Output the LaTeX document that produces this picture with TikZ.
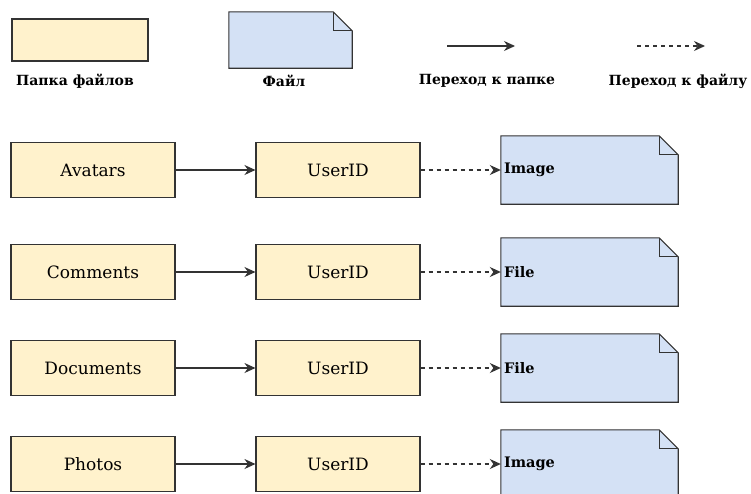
\documentclass[tikz,border=0pt]{standalone}
\usepackage{fontspec}
\setmainfont{DejaVu Serif}
\usetikzlibrary{arrows.meta,positioning,backgrounds}
\definecolor{folderfill}{HTML}{FFF2CC}
\definecolor{filefill}{HTML}{D4E1F5}
\definecolor{edgegray}{HTML}{333333}
\tikzset{
  folder/.style={draw=edgegray, fill=folderfill, line width=1.1pt, minimum width=164pt, minimum height=55pt, font=\fontsize{17}{21}\selectfont},
  docnode/.style={minimum width=177pt, minimum height=68pt, text width=171pt, inner sep=3pt, align=left, font=\bfseries\fontsize{14.5}{18}\selectfont},
  legtext/.style={font=\bfseries\fontsize{14}{18}\selectfont},
  toFolder/.style={-{Stealth[length=11pt,width=10pt]}, line width=1.2pt, draw=edgegray},
  toFile/.style={toFolder, dash pattern=on 4pt off 4pt}
}
\newcommand{\docoutline}[1]{%
  \draw[draw=edgegray, fill=filefill, line width=1.1pt] (#1.north west) -- ([xshift=-19pt]#1.north east) -- ([yshift=-19pt]#1.north east) -- (#1.south east) -- (#1.south west) -- cycle;
  \draw[draw=edgegray, line width=1.1pt] ([xshift=-19pt]#1.north east) |- ([yshift=-19pt]#1.north east);
}
\begin{document}
\begin{tikzpicture}[x=1pt,y=-1pt]
  \path[use as bounding box, clip] (0,0) rectangle (751,493);
  % legend
  \node[folder, minimum width=136pt, minimum height=42pt] (legdir) at (80,40) {};
  \node[docnode, minimum width=123pt, minimum height=56pt, text width=117pt] (legdoc) at (290.5,40) {};
  \begin{scope}[on background layer] \docoutline{legdoc} \end{scope}
  \coordinate (sa) at (447,46);
  \coordinate (sb) at (515,46);
  \coordinate (da) at (637,46);
  \coordinate (db) at (705,46);
  \draw[toFolder] (sa) -- (sb);
  \draw[toFile] (da) -- (db);
  \node[legtext] (l1) at (75,81) {Папка файлов};
  \node[legtext] (l2) at (284,81) {Файл};
  \node[legtext] (l3) at (487,81) {Переход к папке};
  \node[legtext] (l4) at (678,81) {Переход к файлу};
  % rows
  \foreach \name/\file/\y [count=\i] in {Avatars/Image/170, Comments/File/272, Documents/File/368, Photos/Image/464}{
    \node[folder] (dir\i) at (93,\y) {\name};
    \node[folder] (uid\i) at (338,\y) {UserID};
    \node[docnode] (doc\i) at (589.5,\y) {\file};
    \begin{scope}[on background layer] \docoutline{doc\i} \end{scope}
    \draw[toFolder] (dir\i) -- (uid\i);
    \draw[toFile] (uid\i) -- (doc\i);
  }
\end{tikzpicture}
\end{document}
